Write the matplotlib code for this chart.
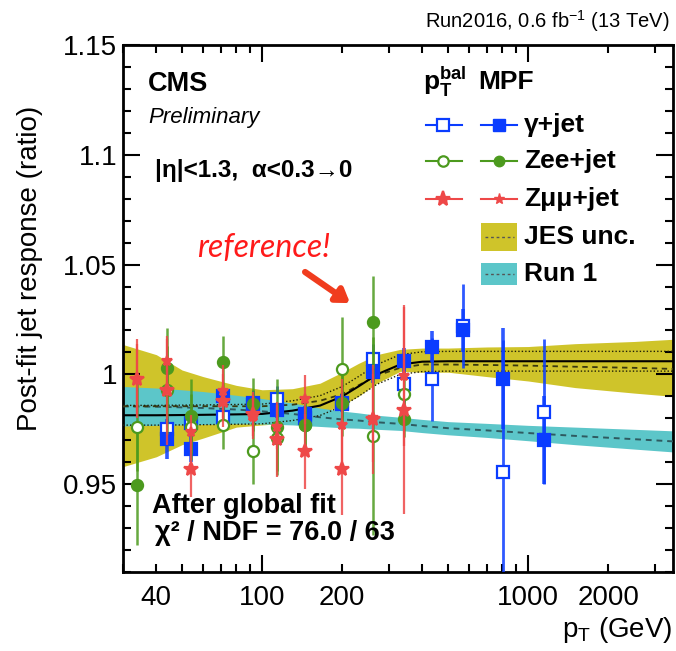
import matplotlib
matplotlib.use("Agg")
import matplotlib.pyplot as plt
import matplotlib.patheffects as pe
import numpy as np
from matplotlib.patches import Rectangle
from matplotlib.ticker import FixedLocator, LogLocator, FuncFormatter, MultipleLocator

# ---- data ------------------------------------------------------------------
PT_BINS = [34, 44, 54, 71, 92, 114, 145, 199, 260, 340, 434, 569, 805, 1149]

GAM_PT = PT_BINS[1:]
GAM_BAL = [0.975, 0.978, 0.9805, 0.987, 0.9886, 0.980, 0.9864, 1.007, 0.9955, 0.9977, 1.022, 0.9557, 0.983]
GAM_BAL_ERR = [0.006, 0.005, 0.006, 0.006, 0.006, 0.006, 0.006, 0.007, 0.008, 0.019, 0.019, 0.060, 0.033]
GAM_MPF = [0.9705, 0.966, 0.990, 0.986, 0.984, 0.9818, 0.987, 1.001, 1.006, 1.0127, 1.020, 0.998, 0.970]
GAM_MPF_ERR = [0.009, 0.006, 0.004, 0.004, 0.004, 0.004, 0.004, 0.005, 0.006, 0.007, 0.010, 0.023, 0.020]

ZEE_PT = PT_BINS[:10]
ZEE_BAL = [0.976, 0.993, 0.976, 0.977, 0.965, 0.971, 0.977, 1.0023, 0.972, 0.991]
ZEE_BAL_ERR = [0.020, 0.020, 0.015, 0.011, 0.015, 0.015, 0.012, 0.024, 0.045, 0.010]
ZEE_MPF = [0.9495, 1.003, 0.981, 1.0055, 0.9864, 0.976, 0.977, 0.987, 1.024, 0.9795]
ZEE_MPF_ERR = [0.027, 0.018, 0.017, 0.012, 0.012, 0.022, 0.012, 0.015, 0.021, 0.008]

ZMM_PT = PT_BINS[:10]
ZMM_BAL = [0.998, 0.9927, 0.957, 0.988, 0.982, 0.9705, 0.965, 0.957, 0.9795, 0.9836]
ZMM_BAL_ERR = [0.018, 0.025, 0.013, 0.012, 0.010, 0.017, 0.017, 0.021, 0.025, 0.047]
ZMM_MPF = [0.998, 1.006, 0.9736, 0.9923, 0.9805, 0.976, 0.9886, 0.977, 0.980, 0.9995]
ZMM_MPF_ERR = [0.016, 0.010, 0.008, 0.012, 0.010, 0.010, 0.011, 0.021, 0.020, 0.032]

BAND_PT = [30, 40, 50, 60, 80, 100, 130, 165, 200, 230, 270, 330, 400, 500, 700, 1000, 1500, 2500, 3500]
JES_FIT = [0.9814, 0.9814, 0.9815, 0.9816, 0.9818, 0.982, 0.9835, 0.9858, 0.990, 0.9945, 1.000,
           1.0045, 1.0058, 1.006, 1.006, 1.006, 1.006, 1.006, 1.006]
JES_UP = [1.0136, 1.009, 1.002, 0.999, 0.995, 0.993, 0.9935, 0.996, 1.001, 1.005, 1.009,
          1.0114, 1.012, 1.012, 1.0125, 1.0127, 1.014, 1.015, 1.016]
JES_DOWN = [0.958, 0.9625, 0.968, 0.971, 0.976, 0.977, 0.978, 0.982, 0.986, 0.990, 0.996,
            1.0014, 1.001, 1.001, 0.999, 0.997, 0.994, 0.9915, 0.990]
JES_DASH = [0.9855, 0.9855, 0.9855, 0.9855, 0.9855, 0.9855, 0.9862, 0.988, 0.991, 0.995, 0.9995,
            1.003, 1.0045, 1.0045, 1.0043, 1.004, 1.0035, 1.003, 1.0025]
FIT_UNC = [0.0045] * len(BAND_PT)

RUN1_MID = [0.9855, 0.9853, 0.985, 0.9847, 0.984, 0.9832, 0.982, 0.9805, 0.9795, 0.979, 0.9782,
            0.9775, 0.9765, 0.9755, 0.9745, 0.9733, 0.972, 0.9705, 0.9695]
RUN1_HALF = [0.009, 0.0085, 0.008, 0.0075, 0.0065, 0.0058, 0.005, 0.0042, 0.0038, 0.0035, 0.0032,
             0.003, 0.003, 0.003, 0.0032, 0.0035, 0.004, 0.0045, 0.0048]

X_LABELLED = [40, 100, 200, 1000, 2000]
Y_TICKS = [0.95, 1.0, 1.05, 1.1, 1.15]
Y_TICK_LABELS = ["0.95", "1", "1.05", "1.1", "1.15"]

BLUE = "#0a3cff"
GREEN = "#4c9a1e"
RED = "#ee4848"
YELLOW = "#cfc42a"
CYAN = "#5cc6c9"
FONT = ["Liberation Sans", "DejaVu Sans"]

plt.rcParams.update({
    "font.family": FONT,
    "mathtext.fontset": "custom",
    "mathtext.rm": "Liberation Sans",
    "mathtext.bf": "Liberation Sans:bold",
    "mathtext.it": "Liberation Sans:italic",
})

fig = plt.figure(figsize=(6.76, 6.51), dpi=100)
ax = fig.add_axes([0.182, 0.1213, 0.8136, 0.8095])
ax.set_xscale("log")
ax.set_xlim(30, 3500)
ax.set_ylim(0.91, 1.15)

# bands
x = np.array(BAND_PT, dtype=float)
fit = np.array(JES_FIT)
ax.fill_between(x, JES_DOWN, JES_UP, color=YELLOW, lw=0, zorder=1)
run1_mid = np.array(RUN1_MID)
run1_half = np.array(RUN1_HALF)
ax.fill_between(x, run1_mid - run1_half, run1_mid + run1_half, color=CYAN, lw=0, zorder=2)
ax.plot(x, run1_mid, color="#2e5a60", lw=1.4, ls=(0, (3, 2.5)), zorder=3)
ax.plot(x, JES_DASH, color="#3a3a10", lw=1.3, ls=(0, (3, 2.5)), zorder=3)
ax.plot(x, fit + np.array(FIT_UNC), color="#202008", lw=1.0, ls=(0, (1, 1.5)), zorder=3)
ax.plot(x, fit - np.array(FIT_UNC), color="#202008", lw=1.0, ls=(0, (1, 1.5)), zorder=3)
ax.plot(x, fit, color="black", lw=1.5, zorder=3)


def points(px, py, err, color, marker, ms, filled, lw, z):
    ax.errorbar(px, py, yerr=err, fmt="none", ecolor=color, elinewidth=lw, alpha=0.85, zorder=z)
    ax.plot(px, py, ls="none", marker=marker, ms=ms,
            mfc=color if filled else "white", mec=color, mew=1.6, zorder=z + 0.5)


points(GAM_PT, GAM_BAL, GAM_BAL_ERR, BLUE, "s", 8.5, False, 2.0, 4)
points(GAM_PT, GAM_MPF, GAM_MPF_ERR, BLUE, "s", 8, True, 2.6, 4)
points(ZEE_PT, ZEE_BAL, ZEE_BAL_ERR, GREEN, "o", 8, False, 1.8, 5)
points(ZEE_PT, ZEE_MPF, ZEE_MPF_ERR, GREEN, "o", 8, True, 1.8, 5)
points(ZMM_PT, ZMM_BAL, ZMM_BAL_ERR, RED, "*", 10.5, True, 1.6, 6)
points(ZMM_PT, ZMM_MPF, ZMM_MPF_ERR, RED, "*", 7.5, True, 1.6, 6)

# axes styling
ax.xaxis.set_major_locator(FixedLocator([100, 1000]))
ax.xaxis.set_minor_locator(LogLocator(base=10, subs=np.arange(2, 10), numticks=20))
lab = FuncFormatter(lambda v, _: f"{v:g}" if round(v) in X_LABELLED else "")
ax.xaxis.set_major_formatter(lab)
ax.xaxis.set_minor_formatter(lab)
ax.yaxis.set_major_locator(FixedLocator(Y_TICKS))
ax.set_yticklabels(Y_TICK_LABELS)
ax.yaxis.set_minor_locator(MultipleLocator(0.01))
ax.tick_params(which="both", direction="in", top=True, right=True, width=1.5, labelsize=20)
ax.tick_params(which="major", length=12)
ax.tick_params(which="minor", length=6)
ax.tick_params(axis="x", which="both", pad=9)
ax.tick_params(axis="y", which="both", pad=4)
for s in ax.spines.values():
    s.set_linewidth(2.0)

fig.text(0.044, 0.587, "Post-fit jet response (ratio)", rotation=90, ha="center", va="center", fontsize=20)
fig.text(0.995, 0.032, r"p$_\mathrm{T}$ (GeV)", ha="right", va="center", fontsize=20)
fig.text(0.991, 0.958, r"Run2016, 0.6 fb$^{-1}$ (13 TeV)", ha="right", va="baseline", fontsize=14.5)

T = ax.transAxes
ax.text(0.0455, 0.9127, "CMS", transform=T, fontsize=19.5, fontweight="bold")
ax.text(0.0455, 0.852, "Preliminary", transform=T, fontsize=16, style="italic")
ax.text(0.058, 0.7495, "|η|<1.3,  α<0.3→0", transform=T, fontsize=17.5, fontweight="bold")
ax.text(0.052, 0.112, "After global fit", transform=T, fontsize=19.5, fontweight="bold", zorder=8)
ax.text(0.058, 0.0607, "χ² / NDF = 76.0 / 63", transform=T, fontsize=19.5, fontweight="bold", zorder=8)

ax.text(0.1345, 0.5977, "reference!", transform=T, fontsize=23, style="italic",
        color="#ff1a1a", family="Lato", fontweight="normal")
ax.annotate("", xy=(0.4127, 0.5104), xytext=(0.331, 0.5693), xycoords=T, textcoords=T,
            arrowprops=dict(arrowstyle="-|>,head_width=0.5,head_length=0.75", lw=4.5,
                            color="#f03c1e", shrinkA=0, shrinkB=0,
                            path_effects=[pe.SimplePatchShadow(offset=(2, -2), alpha=0.25), pe.Normal()]))

# legend
ax.text(0.5455, 0.9146, r"$\mathbf{p}_\mathbf{T}^\mathbf{bal}$", transform=T, fontsize=19)
ax.text(0.6455, 0.9165, "MPF", transform=T, fontsize=19, fontweight="bold")
rows = [0.848, 0.780, 0.7078]
entries = [("γ+jet", BLUE, "s", 8.5, 8), ("Zee+jet", GREEN, "o", 7.5, 7.5), ("Zμμ+jet", RED, "*", 11, 8)]
for yy, (name, col, mk, ms_open, ms_fill) in zip(rows, entries):
    ax.plot([0.551, 0.6164], [yy, yy], color=col, lw=1.5, transform=T, clip_on=False, zorder=7)
    ax.plot([0.582], [yy], marker=mk, ms=ms_open, mfc="white" if mk != "*" else col, mec=col,
            mew=1.6, transform=T, zorder=7)
    ax.plot([0.651, 0.7164], [yy, yy], color=col, lw=1.5, transform=T, clip_on=False, zorder=7)
    ax.plot([0.6836], [yy], marker=mk, ms=ms_fill, mfc=col, mec=col, transform=T, zorder=7)
    ax.text(0.729, yy, name, transform=T, fontsize=19, fontweight="bold", va="center")
for (y0, y1, col, name) in [(0.609, 0.6622, YELLOW, "JES unc."), (0.5446, 0.5863, CYAN, "Run 1")]:
    ax.add_patch(Rectangle((0.651, y0), 0.0654, y1 - y0, transform=T, facecolor=col,
                           edgecolor="none", zorder=7))
    ym = (y0 + y1) / 2
    ax.plot([0.658, 0.71], [ym, ym], color="#555555", lw=1.0, ls=(0, (2, 2)), transform=T, zorder=7.5)
    ax.text(0.729, ym, name, transform=T, fontsize=19, fontweight="bold", va="center")

fig.savefig("out.png", dpi=100)
